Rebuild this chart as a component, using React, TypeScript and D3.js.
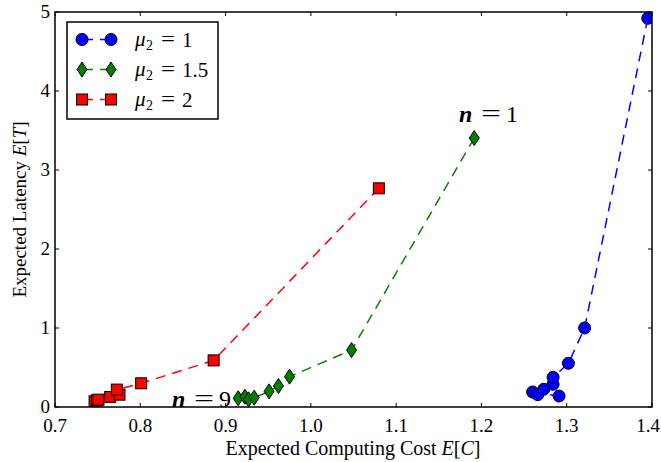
import React from "react";
import * as d3 from "d3";

const xTicks = [0.7, 0.8, 0.9, 1.0, 1.1, 1.2, 1.3, 1.4];
const yTicks = [0, 1, 2, 3, 4, 5];

const blueX = [1.395, 1.321, 1.302, 1.284, 1.284, 1.273, 1.266, 1.26, 1.291];
const blueY = [4.92, 1.0, 0.553, 0.376, 0.287, 0.224, 0.156, 0.19, 0.139];

const greenX = [1.1916, 1.0477, 0.975, 0.962, 0.951, 0.9335, 0.927, 0.9226, 0.9148];
const greenY = [3.405, 0.72, 0.384, 0.266, 0.198, 0.118, 0.097, 0.13, 0.11];

const redX = [1.0797, 0.886, 0.801, 0.7725, 0.7756, 0.7647, 0.751, 0.749, 0.7464];
const redY = [2.768, 0.59, 0.3, 0.22, 0.156, 0.127, 0.093, 0.085, 0.072];

const legendLabels = ["1", "1.5", "2"];

const W = 661, H = 462;
const L = 55, R = 652, T = 12, B = 407;
const FONT = "'Liberation Serif', 'DejaVu Serif', serif";

export default function App() {
  const x = d3.scaleLinear().domain([0.7, 1.4]).range([L, R]);
  const y = d3.scaleLinear().domain([0, 5]).range([B, T]);
  const line = d3.line<[number, number]>().x(d => x(d[0])).y(d => y(d[1]));

  const series = [
    { xs: blueX, ys: blueY, color: "#0000ff", shape: "circle" },
    { xs: greenX, ys: greenY, color: "#008000", shape: "diamond" },
    { xs: redX, ys: redY, color: "#ff0000", shape: "square" },
  ];

  const marker = (shape: string, cx: number, cy: number, color: string, key: any) => {
    if (shape === "circle")
      return <circle key={key} cx={cx} cy={cy} r={6} fill={color} stroke="#000" strokeWidth={1} />;
    if (shape === "diamond")
      return <path key={key} d={`M${cx},${cy - 7.5} L${cx + 5},${cy} L${cx},${cy + 7.5} L${cx - 5},${cy} Z`} fill={color} stroke="#000" strokeWidth={1} />;
    return <rect key={key} x={cx - 5.5} y={cy - 5.5} width={11} height={11} fill={color} stroke="#000" strokeWidth={1} />;
  };

  const eqLabel = (x0: number, yb: number, num: string, key: string) => (
    <g key={key} fontFamily={FONT} fontSize={24}>
      <text x={x0} y={yb} fontStyle="italic" fontWeight="bold">n</text>
      <text x={x0 + 22} y={yb - 1} textLength={20} lengthAdjust="spacingAndGlyphs">=</text>
      <text x={x0 + 47} y={yb}>{num}</text>
    </g>
  );

  return (
    <svg width={W} height={H} style={{ position: "absolute", left: 0, top: 0 }}>
      <defs>
        <clipPath id="plot">
          <rect x={L} y={T} width={R - L} height={B - T} />
        </clipPath>
      </defs>
      <rect width={W} height={H} fill="#fff" />
      <g clipPath="url(#plot)">
        {series.map((s, i) => (
          <g key={i}>
            <path d={line(s.xs.map((v, j) => [v, s.ys[j]]) as [number, number][]) || ""} fill="none" stroke={s.color} strokeWidth={1.5} strokeDasharray="10,7" />
            {s.xs.map((v, j) => marker(s.shape, x(v), y(s.ys[j]), s.color, j)).reverse()}
          </g>
        ))}
      </g>
      {/* ticks */}
      {xTicks.map((t, i) => {
        const last = i === xTicks.length - 1;
        return (
          <g key={"xt" + i}>
            <line x1={x(t)} x2={x(t)} y1={B} y2={B - 4} stroke="#000" />
            <line x1={x(t)} x2={x(t)} y1={T} y2={T + 4} stroke="#000" />
            <text x={last ? W - 1 : x(t)} y={B + 25} textAnchor={last ? "end" : "middle"} fontFamily={FONT} fontSize={19}>{t.toFixed(1)}</text>
          </g>
        );
      })}
      {yTicks.map((t, i) => (
        <g key={"yt" + i}>
          <line x1={L} x2={L + 4} y1={y(t)} y2={y(t)} stroke="#000" />
          <line x1={R} x2={R - 4} y1={y(t)} y2={y(t)} stroke="#000" />
          <text x={L - 5} y={y(t) + 6} textAnchor="end" fontFamily={FONT} fontSize={19}>{t}</text>
        </g>
      ))}
      <rect x={L} y={T} width={R - L} height={B - T} fill="none" stroke="#000" strokeWidth={1.5} />
      {/* annotations */}
      {eqLabel(459, 122, "1", "n1")}
      {eqLabel(172, 407, "9", "n9")}
      {/* axis labels */}
      <text x={353} y={455} textAnchor="middle" fontFamily={FONT} fontSize={20}>
        Expected Computing Cost <tspan fontStyle="italic">E</tspan>[<tspan fontStyle="italic">C</tspan>]
      </text>
      <text transform={`translate(26,${(T + B) / 2}) rotate(-90)`} textAnchor="middle" fontFamily={FONT} fontSize={19}>
        Expected Latency <tspan fontStyle="italic">E</tspan>[<tspan fontStyle="italic">T</tspan>]
      </text>
      {/* legend */}
      <rect x={67} y={22} width={151} height={97} fill="#fff" stroke="#000" strokeWidth={1.5} />
      {series.map((s, i) => {
        const ly = 39.5 + i * 30;
        return (
          <g key={"lg" + i}>
            <line x1={82} x2={111} y1={ly} y2={ly} stroke={s.color} strokeWidth={1.5} strokeDasharray="10,7" strokeDashoffset={-1} />
            {marker(s.shape, 82, ly, s.color, "a")}
            {marker(s.shape, 111, ly, s.color, "b")}
            <g fontFamily={FONT}>
              <text x={135} y={ly + 6} fontSize={21} fontStyle="italic">μ</text>
              <text x={146} y={ly + 10} fontSize={14}>2</text>
              <text x={161} y={ly + 6} fontSize={21} textLength={14} lengthAdjust="spacingAndGlyphs">=</text>
              <text x={182} y={ly + 7} fontSize={21}>{legendLabels[i]}</text>
            </g>
          </g>
        );
      })}
    </svg>
  );
}
